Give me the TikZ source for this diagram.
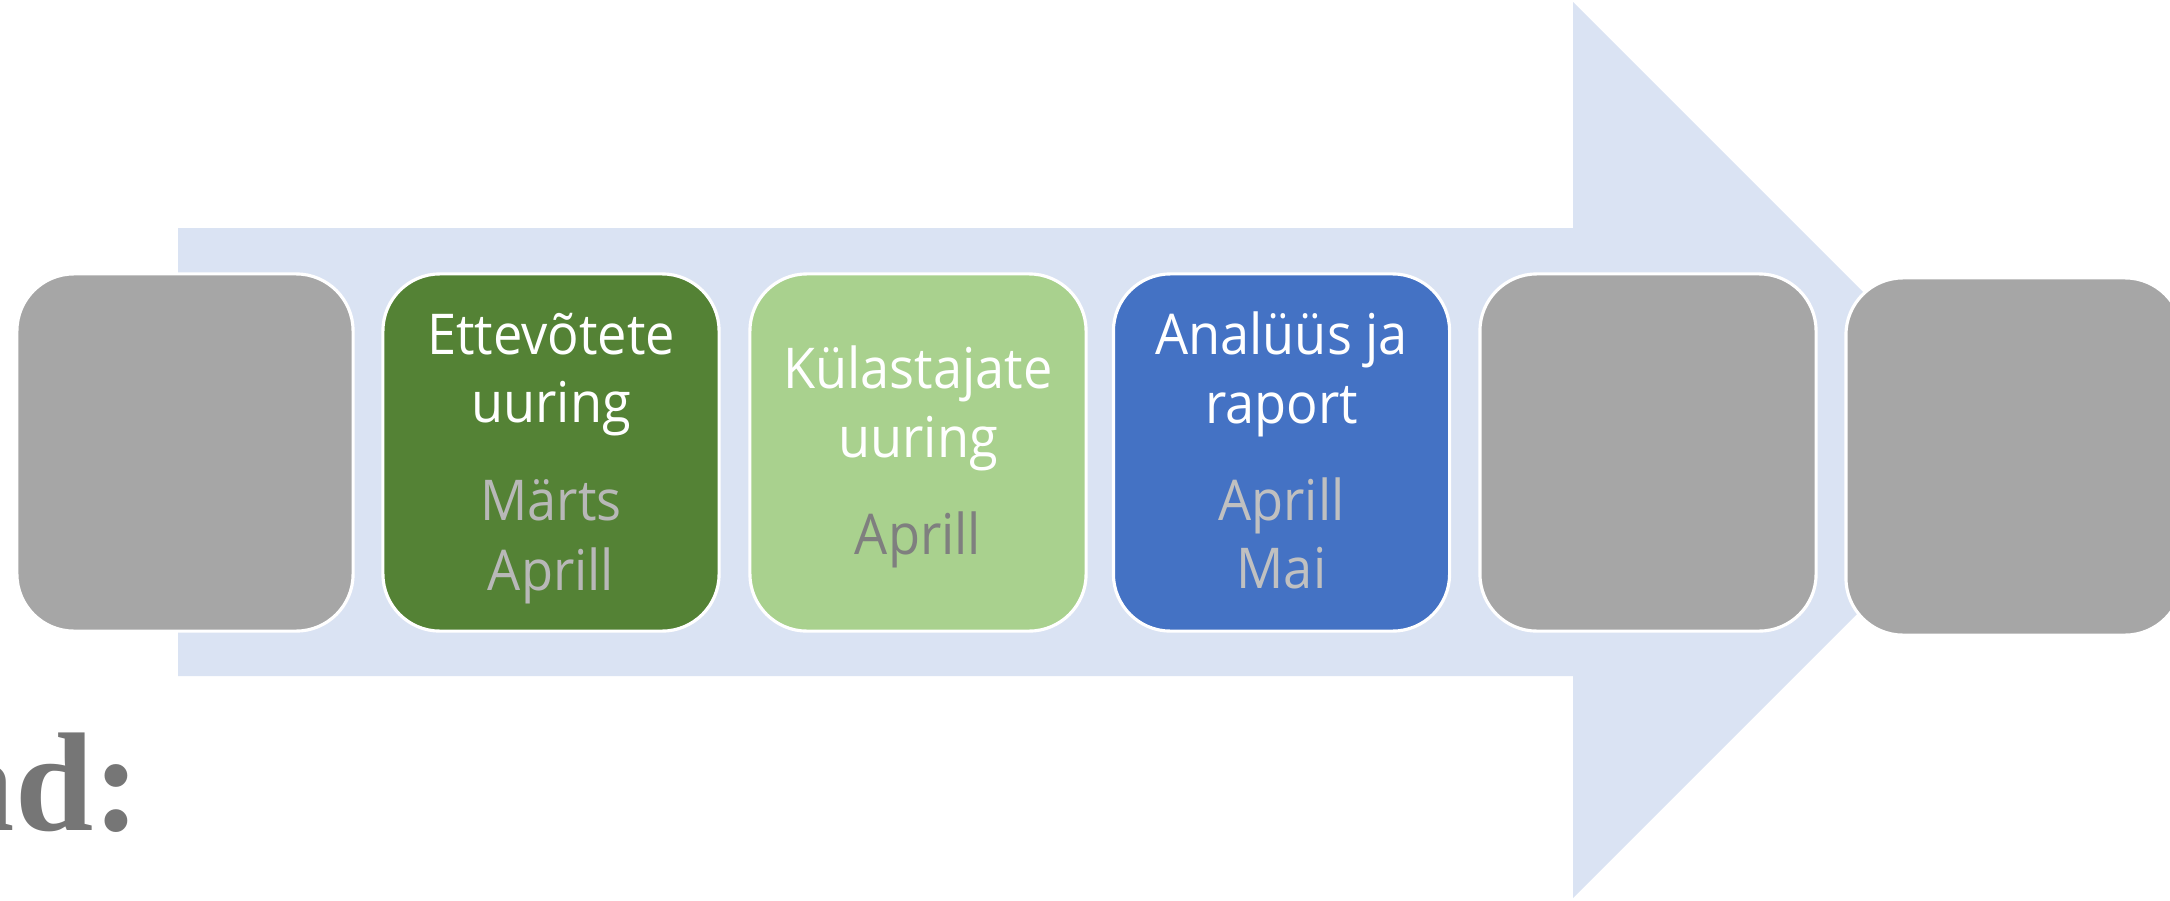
\documentclass[tikz,border=0pt]{standalone}
\usepackage{fontspec}
\setmainfont{Open Sans}[FakeStretch=0.93]
\newfontfamily\serifbold{Liberation Serif}
\definecolor{arrowfill}{HTML}{DAE3F3}
\definecolor{darkgreen}{HTML}{548235}
\definecolor{lightgreen}{HTML}{A9D18E}
\definecolor{boxblue}{HTML}{4472C4}
\definecolor{boxgray}{HTML}{A6A6A6}
\definecolor{dategreen}{HTML}{B8B8B8}
\definecolor{datelight}{HTML}{7F7F7F}
\definecolor{dateblue}{HTML}{C0C0C0}
\definecolor{titlegray}{HTML}{767676}
\tikzset{
  x=0.01cm, y=-0.01cm,
  stagebox/.style={draw=white, line width=0.9pt, rounded corners=0.57cm,
    minimum width=3.36cm, minimum height=3.57cm, inner sep=0pt},
  titletext/.style={anchor=base, inner sep=0pt, text=white,
    font=\fontsize{16}{19}\selectfont},
  datetext/.style={anchor=base, inner sep=0pt,
    font=\fontsize{16}{19}\selectfont},
}
\begin{document}
\begin{tikzpicture}
\useasboundingbox (0,0) rectangle (2170,900);
\clip (0,0) rectangle (2170,900);
% big arrow
\fill[arrowfill] (178,228) -- (1573,228) -- (1573,2) -- (2021,450)
  -- (1573,898) -- (1573,676) -- (178,676) -- cycle;
% boxes
\node[stagebox, fill=boxgray] (b1) at (185,452.5) {};
\node[stagebox, fill=darkgreen] (b2) at (551,452.5) {};
\node[stagebox, fill=lightgreen] (b3) at (918,452.5) {};
\node[stagebox, fill=boxblue] (b4) at (1281.5,452.5) {};
\node[stagebox, fill=boxgray] (b5) at (1648,452.5) {};
\node[stagebox, fill=boxgray] (b6) at (2014,456.5) {};
% box 2 text
\node[titletext] (t2a) at (551,354) {Ettevõtete};
\node[titletext] (t2b) at (551,422) {uuring};
\node[datetext, text=dategreen] (d2a) at (551,520) {Märts};
\node[datetext, text=dategreen] (d2b) at (551,590) {Aprill};
% box 3 text
\node[titletext] (t3a) at (918,388) {Külastajate};
\node[titletext] (t3b) at (918,457) {uuring};
\node[datetext, text=datelight] (d3a) at (918,554) {Aprill};
% box 4 text
\node[titletext] (t4a) at (1281.5,354) {Analüüs ja};
\node[titletext] (t4b) at (1281.5,423) {raport};
\node[datetext, text=dateblue] (d4a) at (1281.5,520) {Aprill};
\node[datetext, text=dateblue] (d4b) at (1281.5,588) {Mai};
% partial heading
\node[anchor=base east, inner sep=0pt, text=titlegray,
  font=\serifbold\bfseries\fontsize{40}{48}\selectfont] (head) at (141,830) {ad:};
\end{tikzpicture}
\end{document}
